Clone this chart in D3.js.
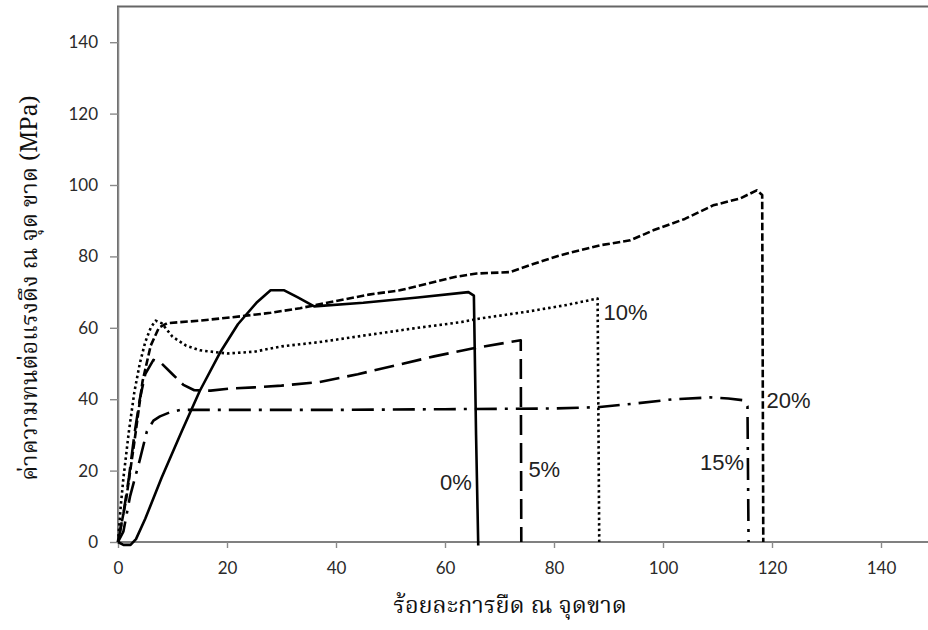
<!DOCTYPE html>
<html>
<head>
<meta charset="utf-8">
<script src="https://cdn.jsdelivr.net/npm/d3@7"></script>
<style>
  body { margin: 0; background: #fff; }
  svg { display: block; }
  .tick text { font-family: Lato, "Open Sans", sans-serif; font-size: 17px; fill: #2a2a2a; }
  .thai { font-family: "Noto Serif Thai", "Noto Sans Thai", Loma, Garuda, "DejaVu Serif", serif; font-size: 23.5px; fill: #111; }
  .pct { font-family: "Liberation Sans", Arial, sans-serif; font-size: 22px; fill: #222; }
</style>
</head>
<body>
<svg id="chart" width="928" height="630"></svg>
<script>
// strain at break (%) vs tensile stress (MPa), one array per loading
const s0 = [[0,0],[1,-0.8],[2.3,-0.8],[3.3,0.8],[5,6.5],[8,18],[11.7,31],[15,42.3],[18.7,53],[22,61],[25.4,67],[28,70.5],[30.5,70.5],[33,68.5],[36,66],[45,67],[55,68.5],[64.3,70],[65.3,69],[65.7,30],[66.1,-1]];
const s5 = [[0,0],[1,8],[2,18],[3,30],[4,40],[5,47],[6.5,51],[8,50],[10,47],[12,44],[14,42.5],[17,42.4],[20.6,43],[25,43.3],[30,43.8],[37,44.8],[44,47],[51,49.5],[58,52],[65,54.2],[71.9,56],[73.9,56.5],[74,0]];
const s10 = [[0,0],[0.5,10],[1,18],[2,31],[3,42],[4,50],[5,56],[6,60],[6.9,62],[8,61.3],[10,57.5],[12.5,55],[15,53.7],[20,52.8],[25,53.3],[30,54.8],[37,56],[45,57.8],[55,60],[63,61.6],[66.4,62.6],[75,64.5],[82,66.3],[88,68.2],[88.3,0]];
const s15 = [[0,0],[1,3],[2.2,12.7],[4,23],[5.3,31],[6.5,34],[7.7,35.2],[9.5,36.3],[11.5,37],[20,37],[40,37],[60,37.2],[80,37.4],[88.4,37.8],[95,38.8],[102,40],[108.6,40.5],[112,40.2],[114.7,39.7],[115.5,38],[115.7,0]];
const s20 = [[0,0],[1.5,12],[3,28],[4.5,45],[6,55],[7.5,60],[9,61.3],[15,62],[22.4,63.2],[28,64.2],[33.4,65.5],[40,67.5],[46,69.3],[51.7,70.5],[58,72.8],[62,74.3],[65.8,75.2],[71.9,75.6],[73.8,76.6],[78,78.8],[81.1,80.3],[88.4,83.1],[94,84.5],[98.2,87.3],[104,90.5],[109.2,94.3],[114.1,96.2],[117.2,98.5],[118.2,97.2],[118.4,0]];

const seriesNames = ["0%", "5%", "10%", "15%", "20%"];
const seriesData = [s0, s5, s10, s15, s20];
const dashes = [null, "20,8", "2.5,3", "22,8,3,8", "7.5,3"];
// where each label sits, in data units (strain, stress)
const labelAt = [[59.1, 14.5], [75.3, 18.3], [89.1, 62.1], [106.8, 20.1], [119, 37.4]];

const xTicks = [0, 20, 40, 60, 80, 100, 120, 140];
const yTicks = [0, 20, 40, 60, 80, 100, 120, 140];

const svg = d3.select("#chart");

const x = d3.scaleLinear().domain([0, 150]).range([118, 935.5]);
const y = d3.scaleLinear().domain([0, 150]).range([542, 6.5]);

// plot area border (right side runs off the page)
svg.append("rect")
   .attr("x", x(0)).attr("y", y(150))
   .attr("width", x(150) - x(0)).attr("height", y(0) - y(150))
   .attr("fill", "none")
   .attr("stroke", "#666")
   .attr("stroke-width", 2);

const yAxis = svg.append("g")
   .attr("transform", "translate(" + x(0) + ",0)")
   .call(d3.axisLeft(y).tickValues(yTicks).tickSize(8).tickPadding(12).tickSizeOuter(0));

const xAxis = svg.append("g")
   .attr("transform", "translate(0," + y(0) + ")")
   .call(d3.axisBottom(x).tickValues(xTicks).tickSize(6).tickPadding(14).tickSizeOuter(0));

[yAxis, xAxis].forEach(a => {
	a.select(".domain").attr("stroke", "#8a8a8a").attr("stroke-width", 1.6);
	a.selectAll(".tick line").attr("stroke", "#8a8a8a").attr("stroke-width", 1.4);
});
xAxis.select(".domain").attr("d", "M" + x(0) + ",0H" + x(150));

let line = d3.line()
	.x(d => x(d[0]))
	.y(d => y(d[1]));

seriesData.forEach((data, i) => {
	svg.append("path")
	   .datum(data)
	   .attr("fill", "none")
	   .attr("stroke", "#000")
	   .attr("stroke-width", 2.6)
	   .attr("stroke-linejoin", "round")
	   .attr("stroke-dasharray", dashes[i])
	   .attr("d", line);
});

svg.selectAll(".pct")
   .data(seriesNames)
   .enter().append("text")
   .attr("class", "pct")
   .attr("x", (d, i) => x(labelAt[i][0]))
   .attr("y", (d, i) => y(labelAt[i][1]))
   .text(d => d);

// axis titles
svg.append("text")
   .attr("class", "thai")
   .attr("text-anchor", "middle")
   .attr("transform", "translate(37,288) rotate(-90)")
   .text("ค่าความทนต่อแรงดึง ณ จุด ขาด (MPa)");

svg.append("text")
   .attr("class", "thai")
   .attr("text-anchor", "middle")
   .attr("x", 510)
   .attr("y", 613)
   .text("ร้อยละการยืด ณ จุดขาด");
</script>
</body>
</html>
